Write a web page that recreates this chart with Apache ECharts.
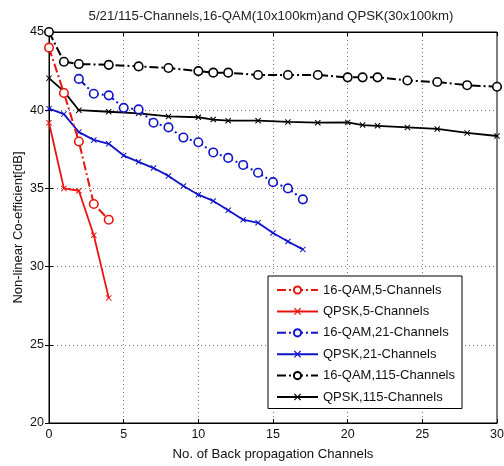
<!DOCTYPE html>
<html>
<head>
<meta charset="utf-8">
<script src="https://cdn.jsdelivr.net/npm/echarts@6/dist/echarts.min.js"></script>
<style>html,body{margin:0;padding:0;background:#fff;}#c{width:504px;height:466px;}</style>
</head>
<body>
<div id="c"></div>
<script>
// ---- data ----
var titleText = '5/21/115-Channels,16-QAM(10x100km)and QPSK(30x100km)';
var xName = 'No. of Back propagation Channels';
var yName = 'Non-linear Co-efficient[dB]';
var xTicks = [0, 5, 10, 15, 20, 25, 30];
var yTicks = [20, 25, 30, 35, 40, 45];

var x5 = [0, 1, 2, 3, 4];
var qam5 = [44.0, 41.1, 38.0, 34.0, 33.0];
var qpsk5 = [39.2, 35.0, 34.85, 32.0, 28.0];

var xQam21 = [2, 3, 4, 5, 6, 7, 8, 9, 10, 11, 12, 13, 14, 15, 16, 17];
var qam21 = [42.0, 41.05, 40.95, 40.15, 40.05, 39.2, 38.9, 38.25, 37.95, 37.3, 36.95, 36.5, 36.0, 35.4, 35.0, 34.3];
var xQpsk21 = [0, 1, 2, 3, 4, 5, 6, 7, 8, 9, 10, 11, 12, 13, 14, 15, 16, 17];
var qpsk21 = [40.1, 39.75, 38.6, 38.1, 37.85, 37.1, 36.7, 36.3, 35.8, 35.15, 34.6, 34.2, 33.6, 33.0, 32.8, 32.15, 31.6, 31.1];

var x115 = [0, 1, 2, 4, 6, 8, 10, 11, 12, 14, 16, 18, 20, 21, 22, 24, 26, 28, 30];
var qam115 = [45.0, 43.1, 42.95, 42.9, 42.8, 42.7, 42.5, 42.4, 42.4, 42.25, 42.25, 42.25, 42.1, 42.1, 42.1, 41.9, 41.8, 41.6, 41.5];
var qpsk115 = [42.05, 41.2, 40.0, 39.9, 39.8, 39.6, 39.55, 39.4, 39.33, 39.33, 39.25, 39.2, 39.22, 39.05, 39.0, 38.9, 38.8, 38.55, 38.35];

var seriesNames = ['16-QAM,5-Channels', 'QPSK,5-Channels', '16-QAM,21-Channels', 'QPSK,21-Channels', '16-QAM,115-Channels', 'QPSK,115-Channels'];

// ---- styling ----
var RED = '#e8150f', BLUE = '#0f14c8', BLACK = '#000000';
var FONT = 'Liberation Sans, Arial, sans-serif';
var X_SYM = 'path://M0,1.2L1.2,0L5,3.8L8.8,0L10,1.2L6.2,5L10,8.8L8.8,10L5,6.2L1.2,10L0,8.8L3.8,5Z';
var DASHDOT = [9, 3, 2, 3];

function pairs(xs, ys) { return xs.map(function (x, i) { return [x, ys[i]]; }); }

function qamSeries(name, xs, ys, color) {
  return {
    name: name, type: 'line', data: pairs(xs, ys),
    symbol: 'circle', symbolSize: 8.5,
    itemStyle: { color: '#fff', borderColor: color, borderWidth: 1.6 },
    lineStyle: { color: color, width: 2, type: DASHDOT },
    emphasis: { disabled: true }, animation: false, z: 3
  };
}
function qpskSeries(name, xs, ys, color) {
  return {
    name: name, type: 'line', data: pairs(xs, ys),
    symbol: X_SYM, symbolSize: 6,
    itemStyle: { color: color },
    lineStyle: { color: color, width: 1.8, type: 'solid' },
    emphasis: { disabled: true }, animation: false, z: 2
  };
}

var chart = echarts.init(document.getElementById('c'), null, { renderer: 'canvas' });

var axisCommon = {
  axisLine: { show: true, lineStyle: { color: '#000', width: 1 } },
  axisTick: { show: true, inside: true, length: 4, lineStyle: { color: '#000' } },
};

chart.setOption({
  backgroundColor: '#fff',
  animation: false,
  textStyle: { fontFamily: FONT },
  title: {
    text: titleText, left: 266, top: 5, textAlign: 'center',
    textStyle: { fontSize: 13.2, fontWeight: 'normal', color: '#222', fontFamily: FONT }
  },
  grid: { left: 49, right: 7, top: 32, bottom: 43, containLabel: false, outerBoundsMode: 'none',
          show: true, borderColor: '#000', borderWidth: 1, backgroundColor: '#fff' },
  legend: {
    data: seriesNames,
    orient: 'vertical', left: 268, top: 276,
    itemWidth: 41, itemHeight: 9, itemGap: 8.4,
    padding: [7.5, 7, 5, 8],
    backgroundColor: '#fff', borderColor: '#000', borderWidth: 1,
    textStyle: { fontSize: 13, color: '#111', fontFamily: FONT },
    selectedMode: false
  },
  xAxis: [
    Object.assign({
      type: 'value', min: xTicks[0], max: xTicks[xTicks.length - 1], interval: 5,
      name: xName, nameLocation: 'middle', nameGap: 25, nameMoveOverlap: false,
      nameTextStyle: { fontSize: 13.2, color: '#111', fontFamily: FONT },
      axisLabel: { fontSize: 12.5, color: '#111', margin: 5, fontFamily: FONT },
      splitLine: { show: true, lineStyle: { color: '#777', type: [1, 3], width: 1 } }
    }, axisCommon),
    Object.assign({
      type: 'value', position: 'top', min: xTicks[0], max: xTicks[xTicks.length - 1], interval: 5,
      axisLabel: { show: false }, splitLine: { show: false }
    }, axisCommon)
  ],
  yAxis: [
    Object.assign({
      type: 'value', min: yTicks[0], max: yTicks[yTicks.length - 1], interval: 5,
      name: yName, nameLocation: 'middle', nameGap: 24, nameRotate: 90, nameMoveOverlap: false,
      nameTextStyle: { fontSize: 13, color: '#111', fontFamily: FONT },
      axisLabel: { fontSize: 12.5, color: '#111', margin: 5, fontFamily: FONT },
      splitLine: { show: true, lineStyle: { color: '#777', type: [1, 3], width: 1 } }
    }, axisCommon),
    Object.assign({
      type: 'value', position: 'right', min: yTicks[0], max: yTicks[yTicks.length - 1], interval: 5,
      axisLabel: { show: false }, splitLine: { show: false }
    }, axisCommon)
  ],
  series: [
    qamSeries(seriesNames[0], x5, qam5, RED),
    qpskSeries(seriesNames[1], x5, qpsk5, RED),
    qamSeries(seriesNames[2], xQam21, qam21, BLUE),
    qpskSeries(seriesNames[3], xQpsk21, qpsk21, BLUE),
    qamSeries(seriesNames[4], x115, qam115, BLACK),
    qpskSeries(seriesNames[5], x115, qpsk115, BLACK)
  ]
});
</script>
</body>
</html>
